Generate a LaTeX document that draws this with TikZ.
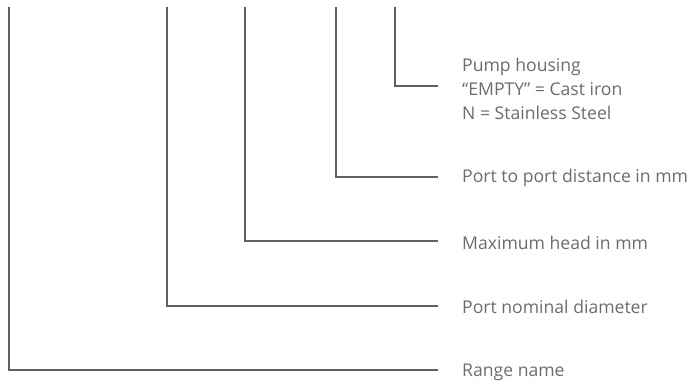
\documentclass[tikz,border=0pt]{standalone}
\usepackage{fontspec}
\setmainfont{Open Sans}
\definecolor{linegray}{HTML}{5F5F5F}
\definecolor{textgray}{HTML}{6C6C6C}
\begin{document}
\begin{tikzpicture}[x=1pt,y=-1pt,
  lead/.style={draw=linegray,line width=1.7pt,line cap=butt,line join=miter},
  lbl/.style={anchor=west,inner sep=0pt,text=textgray,font=\fontsize{17.6}{23.6}\selectfont,align=left}]
\useasboundingbox (0,0) rectangle (695,387);
% tops
\coordinate (t1) at (9,7);
\coordinate (t2) at (167,7);
\coordinate (t3) at (245,7);
\coordinate (t4) at (336,7);
\coordinate (t5) at (395,7);
% right ends
\coordinate (e1) at (438,370);
\coordinate (e2) at (438,306);
\coordinate (e3) at (438,241);
\coordinate (e4) at (438,177);
\coordinate (e5) at (438,86);
% labels
\node[lbl] (l1) at (462,372) {Range name};
\node[lbl] (l2) at (462,307) {Port nominal diameter};
\node[lbl] (l3) at (462,243) {Maximum head in mm};
\node[lbl] (l4) at (462,178) {Port to port distance in mm};
\node[lbl] (l5) at (462,89) {Pump housing\\“EMPTY” = Cast iron\\N = Stainless Steel};
\draw[lead] (t1) |- (e1);
\draw[lead] (t2) |- (e2);
\draw[lead] (t3) |- (e3);
\draw[lead] (t4) |- (e4);
\draw[lead] (t5) |- (e5);
\end{tikzpicture}
\end{document}
